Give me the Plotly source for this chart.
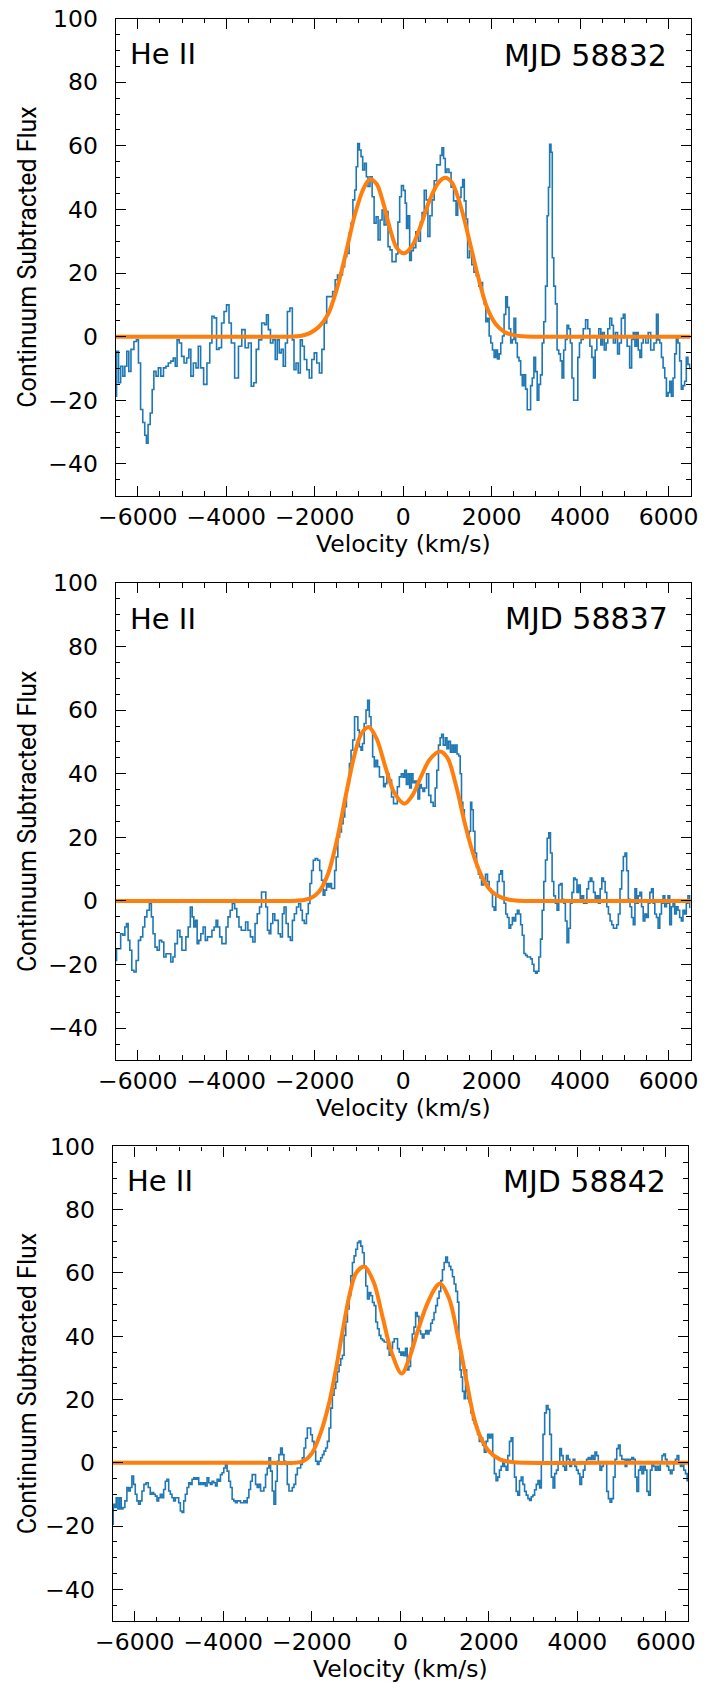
import plotly.graph_objects as go

W, H = 705, 1683

# ---------------- data ----------------
vel_58832 = [-6500, -6462, -6410, -6365, -6312, -6275, -6222, -6185, -6125, -6050, -6012, -5960, -5915, -5862, -5825,
             -5787, -5750, -5690, -5660, -5615, -5562, -5510, -5450, -5390, -5337, -5285, -5225, -5172, -5135, -5090,
             -5037, -4985, -4925, -4865, -4827, -4775, -4715, -4655, -4610, -4550, -4475, -4400, -4347, -4302, -4250,
             -4190, -4137, -4077, -4025, -3965, -3912, -3860, -3762, -3687, -3612, -3537, -3462, -3410, -3350, -3297,
             -3237, -3162, -3110, -3072, -3027, -2975, -2915, -2870, -2825, -2780, -2735, -2690, -2637, -2600, -2525,
             -2487, -2450, -2397, -2352, -2300, -2262, -2210, -2150, -2097, -2037, -1985, -1925, -1865, -1812, -1760,
             -1700, -1625, -1565, -1512, -1460, -1400, -1347, -1302, -1250, -1197, -1160, -1115, -1077, -1047, -1010,
             -972, -935, -897, -852, -815, -777, -725, -680, -635, -590, -545, -500, -455, -410, -365, -320, -275,
             -230, -185, -140, -100, -60, -20, 30, 60, 90, 127, 165, 202, 255, 315, 375, 405, 450, 502, 540, 577, 630,
             675, 727, 787, 824, 854, 899, 929, 974, 1004, 1064, 1101, 1176, 1213, 1251, 1288, 1326, 1363, 1400, 1438,
             1475, 1528, 1573, 1625, 1678, 1738, 1775, 1813, 1850, 1887, 1925, 1962, 2000, 2037, 2075, 2112, 2150,
             2187, 2225, 2262, 2300, 2337, 2374, 2412, 2449, 2487, 2524, 2562, 2599, 2637, 2674, 2711, 2749, 2786,
             2824, 2861, 2899, 2936, 2974, 3011, 3048, 3086, 3123, 3161, 3198, 3236, 3273, 3296, 3326, 3356, 3385,
             3423, 3460, 3498, 3535, 3573, 3610, 3648, 3685, 3723, 3760, 3797, 3835, 3872, 3925, 3970, 4000, 4045,
             4097, 4150, 4194, 4247, 4284, 4322, 4359, 4397, 4449, 4487, 4524, 4569, 4606, 4644, 4696, 4734, 4771,
             4824, 4868, 4906, 4958, 4996, 5033, 5093, 5146, 5183, 5220, 5258, 5295, 5333, 5370, 5408, 5445, 5520,
             5558, 5633, 5707, 5745, 5782, 5820, 5857, 5895, 5932, 5970, 6007, 6045, 6082, 6120, 6157, 6194, 6232,
             6269, 6307, 6344, 6382, 6419, 6457, 6500]
flux_58832 = [-18.7, -4.6, -14.5, -9.3, -12.4, -9.3, -4.6, -10.9, -4, -1.5, -1, -8.3, -22.9, -27, -31,
              -33.5, -27.6, -24, -16.6, -10.9, -12.4, -9.8, -12.4, -9.8, -9.3, -8.3, -7.7, -6.7, -9.3, -1,
              -2, -6.2, -8.3, -6.7, -4, -12.4, -8.3, -9.8, -3, -9.8, -15, -8.3, -2, 6.4, 5.9,
              -4, -3.5, 4.3, 7.9, 10, 4.3, -2, -13, -3, 2.2, -3.5, -2, -15.6, -14.5, -4,
              -1, 4.3, 3.8, 6.9, 2.2, -2, -1, -7.2, -1, -5.1, -4, -9.3, -2, 7.9, 9,
              -1, -10.4, -8.3, -11.4, -1, -3, -7.2, -10.4, -13, -7.2, -5.1, -8.3, -11.4, -4, 4.3,
              12.6, 12.6, 14.2, 17.9, 19.4, 19.4, 22, 25.2, 26.2, 32.5, 35.7, 43, 46.1, 53.4, 60.7,
              58.7, 56.6, 52.4, 54.5, 50.3, 47.2, 50.3, 44, 35.7, 37.7, 30.4, 36.7, 39.8, 35.1, 39.3, 28.3, 27.3,
              23.6, 23.6, 26, 36, 44, 47.5, 46, 42, 34, 38, 24, 27, 28, 33, 30, 36, 39, 46, 43, 31.5, 38,
              43, 49, 54, 54, 57, 59.4, 56, 51.6, 52.7, 51.6, 47, 42.7, 38.2, 42.7, 43.8, 47, 49.4, 42.7, 37,
              24.8, 27, 22.6, 20.3, 19.2, 15.9, 17, 12.5, 10.3, 4.7, 5.8, 0.2, -2, -4.2, -6.5, -4.2, -7,
              -5.4, -2, 0.2, 7, 12.5, 9.2, 2.5, -2, -0.9, 5.8, -2, -6.5, -7.6, -12, -15.4, -12, -16.5,
              -23, -23, -15.4, -13, -6.5, -11, -20, -15, -12, -2, 4.7, 15.9, 38, 47, 60.5, 58, 24.8,
              15.9, 10.3, -4.2, -5.4, -7.6, -13, -4.2, -0.9, 3.6, 2.5, -2, -13, -20, -20, -6.5, -2, -0.9,
              2.5, 5.3, 2.5, -3, -6.5, -13, -4.2, 0.2, 2.5, -2.6, 1.3, -4.2, -2, 2.5, 5.8, 3.6, -2,
              1.3, -5.4, -2, 5.8, 7, 0.2, -3, -9.8, -0.9, 1.3, -3, 1.3, -4.2, -6.5, -2, 0.2, -2,
              1.3, -4.2, -2, 7, -1, -2, -6.5, -9.8, -13, -18.7, -17.6, -14, -18.7, -13, -5.4, 0.2, -2,
              -7.6, -16.5, -15.4, -14, -6.5, -8.7, -10]

vel_58837 = [-6500, -6462, -6410, -6365, -6312, -6275, -6237, -6200, -6162, -6110, -6065, -6012, -5960, -5915, -5862,
             -5825, -5765, -5712, -5675, -5637, -5585, -5540, -5487, -5435, -5390, -5337, -5285, -5225, -5187, -5135,
             -5075, -5022, -4985, -4940, -4887, -4835, -4790, -4752, -4715, -4677, -4640, -4602, -4550, -4497, -4452,
             -4400, -4347, -4302, -4250, -4212, -4175, -4122, -4077, -4025, -3987, -3935, -3890, -3837, -3785, -3740,
             -3687, -3635, -3590, -3537, -3485, -3425, -3372, -3327, -3275, -3222, -3185, -3125, -3087, -3050, -3012,
             -2975, -2922, -2885, -2847, -2802, -2750, -2712, -2675, -2622, -2577, -2525, -2487, -2435, -2390, -2337,
             -2300, -2262, -2210, -2165, -2127, -2090, -2052, -2015, -1962, -1910, -1865, -1827, -1790, -1752, -1715,
             -1677, -1640, -1602, -1565, -1535, -1497, -1460, -1415, -1377, -1340, -1302, -1265, -1235, -1197, -1160,
             -1122, -1077, -1040, -1010, -972, -935, -905, -860, -822, -785, -747, -710, -672, -635, -597, -560, -515,
             -462, -425, -387, -350, -290, -237, -200, -155, -110, -65, -22, 15, 52, 90, 127, 165, 202, 240, 277,
             315, 352, 390, 427, 465, 502, 555, 599, 652, 704, 741, 779, 816, 854, 884, 929, 974, 1004, 1049, 1086,
             1124, 1161, 1199, 1236, 1273, 1303, 1333, 1363, 1400, 1438, 1475, 1513, 1535, 1565, 1603, 1640, 1678,
             1723, 1753, 1790, 1835, 1887, 1925, 1962, 2000, 2037, 2075, 2112, 2150, 2187, 2225, 2262, 2300, 2337,
             2374, 2412, 2449, 2487, 2524, 2562, 2599, 2637, 2674, 2711, 2749, 2786, 2824, 2861, 2899, 2936, 2974,
             3011, 3048, 3086, 3123, 3161, 3198, 3236, 3273, 3311, 3348, 3385, 3423, 3460, 3498, 3535, 3573, 3610,
             3648, 3685, 3723, 3760, 3797, 3835, 3872, 3910, 3947, 3985, 4022, 4060, 4097, 4135, 4172, 4210, 4247,
             4284, 4322, 4359, 4397, 4434, 4472, 4509, 4547, 4584, 4621, 4659, 4696, 4734, 4771, 4808, 4846, 4883,
             4921, 4958, 4996, 5033, 5071, 5108, 5146, 5183, 5221, 5258, 5295, 5333, 5370, 5408, 5445, 5483, 5520,
             5558, 5595, 5633, 5670, 5707, 5745, 5782, 5820, 5857, 5895, 5932, 5970, 6007, 6045, 6082, 6120, 6157,
             6194, 6232, 6269, 6307, 6344, 6382, 6419, 6457, 6500]
flux_58837 = [-18.7, -15, -15, -10.3, -10.8, -8.2, -7.1, -12.4, -15.5, -21.8, -22.3, -18.7, -12.4, -11.3, -8.2,
              -5, -2.9, -0.8, -5, -10.3, -14.5, -15.5, -12.4, -12.9, -17.6, -16.6, -16.6, -19.2, -17.6, -13.4,
              -9.2, -11.3, -15.5, -15.5, -11.3, -8.2, -1.9, -5, -8.2, -6.1, -13.4, -12.4, -10.3, -8.2, -12.4,
              -11.3, -11.3, -9.2, -8.2, -6.1, -8.2, -11.3, -13.4, -13.4, -8.2, -5, -2.9, -0.8, -2.4, -5,
              -8.2, -9.2, -9.2, -6.6, -9.2, -11.3, -12.9, -7.1, -4, -1.9, 2.8, 2.8, -1.9, -9.2, -10.3,
              -7.1, -4, -6.1, -6.1, -10.3, -11.3, -4, -1.9, -7.1, -11.3, -12.4, -6.1, -4, -1.9, -0.8,
              -2.9, -6.1, -7.1, -4, -0.8, 5.5, 9.6, 12.8, 13.3, 12.8, 9.6, 6.5, 1.8, 3.4, 5.5,
              4.4, 5.5, 3.9, 3.9, 9.6, 13.8, 20.1, 21.7, 24.3, 26.4, 29.6, 34.8, 36.9, 43.2, 47.4,
              50.6, 57.9, 57.9, 53.7, 48.5, 47.4, 49.5, 55.8, 60, 63.1, 57.9, 53.7, 45.3, 42.2, 44.2, 42.2, 39,
              39, 35.9, 36.9, 40, 38, 32.7, 30.6, 30.6, 35.9, 39, 40, 38.9, 41.1, 36.6, 40, 35.5, 40, 37.2, 37.7,
              35.5, 32.1, 36.6, 35.5, 34.4, 35.5, 40, 33.2, 31, 29.8, 35.5, 41.1, 49, 51.3, 52.4, 49, 51.3, 47.9, 50.2, 46.8,
              49, 46.8, 49, 46.2, 45.6, 40, 31, 28.7, 24.2, 21.9, 19.7, 21.9, 31, 28.7, 21.9, 15.1, 10.6,
              8.4, 7.2, 5, 6.1, 8.4, 6.1, 3.8, 2.7, -1.8, -2.9, 1.6, 6.1, 8.4, 9.5, 6.1, -0.7, -4.1,
              -5.2, -8.6, -7.5, -5.2, -6.3, -4.1, -2.9, -4.1, -7.5, -10.8, -16.5, -17.1, -17.6, -17.6, -18.2, -19.9, -22.1,
              -22.7, -22.1, -17.6, -12, -2.9, 6.1, 12.9, 19.7, 21.4, 15.1, 6.1, 1.6, -0.7, -2.9, 5, 5.5, 0.5,
              -0.7, -6.3, -13.1, -8.6, -0.7, 2.7, 7.2, 6.7, 2.7, 5, 0.5, 1.6, -0.7, -0.7, 3.8, 6.1, 7.2,
              6.1, 2.7, 0.5, 1.6, -0.7, 3.8, 7.2, 6.1, 2.7, -1.8, -4.1, -6.3, -7.5, -8.6, -8.6, -7.5, -4.1,
              3.8, 9.5, 14, 15.1, 9.5, 0.5, -1.8, -5.2, -7.5, 3.8, -0.7, 1.6, 2.7, -1.8, -6.3, -4.1, -5.2,
              -0.7, 2.7, 3.8, -0.7, -4.1, -5.2, -8.6, -4.1, -0.7, 1.6, -1.8, -0.7, 1.6, -7.5, -1.8, -0.7, -4.1,
              -1.8, -2.9, -5.2, -6.3, -2.9, -4.1, -0.7, 1.6, -2]

vel_58842 = [-6500, -6477, -6440, -6402, -6364, -6326, -6289, -6251, -6198, -6160, -6122, -6085, -6047, -6009, -5971,
             -5934, -5896, -5858, -5820, -5768, -5722, -5670, -5632, -5594, -5556, -5518, -5481, -5443, -5405, -5367,
             -5330, -5292, -5254, -5216, -5179, -5141, -5103, -5065, -5028, -4990, -4952, -4914, -4877, -4839, -4801,
             -4763, -4726, -4688, -4650, -4612, -4575, -4537, -4499, -4461, -4424, -4386, -4348, -4310, -4273, -4235,
             -4197, -4159, -4122, -4084, -4046, -4008, -3971, -3933, -3895, -3857, -3820, -3782, -3744, -3706, -3669,
             -3631, -3593, -3555, -3518, -3480, -3442, -3404, -3367, -3329, -3291, -3253, -3216, -3178, -3140, -3102,
             -3065, -3027, -2989, -2951, -2914, -2876, -2838, -2800, -2763, -2725, -2687, -2649, -2612, -2574, -2536,
             -2498, -2461, -2423, -2385, -2347, -2310, -2272, -2234, -2196, -2159, -2121, -2083, -2045, -2008, -1970,
             -1932, -1894, -1857, -1819, -1781, -1743, -1706, -1668, -1630, -1592, -1555, -1517, -1479, -1441, -1404,
             -1366, -1328, -1290, -1253, -1215, -1177, -1139, -1102, -1064, -1026, -988, -951, -913, -875, -837, -800,
             -762, -724, -686, -649, -611, -573, -535, -498, -460, -422, -384, -347, -309, -271, -233, -196, -158,
             -120, -82, -45, -7, 31, 61, 98, 136, 174, 212, 250, 288, 326, 364, 402, 439, 477, 515, 553, 591, 629,
             667, 705, 742, 780, 818, 856, 894, 932, 970, 1008, 1045, 1083, 1121, 1159, 1197, 1235, 1273, 1311, 1333,
             1364, 1386, 1424, 1462, 1485, 1508, 1538, 1576, 1614, 1652, 1689, 1727, 1765, 1803, 1841, 1879, 1917,
             1955, 1992, 2030, 2068, 2106, 2144, 2182, 2220, 2258, 2296, 2333, 2371, 2409, 2447, 2485, 2523, 2561,
             2599, 2636, 2674, 2712, 2750, 2788, 2826, 2864, 2902, 2939, 2977, 3015, 3053, 3091, 3129, 3167, 3205,
             3242, 3280, 3318, 3356, 3394, 3432, 3470, 3508, 3546, 3583, 3621, 3659, 3697, 3735, 3773, 3811, 3849,
             3886, 3924, 3962, 4000, 4038, 4076, 4114, 4152, 4189, 4227, 4265, 4303, 4341, 4379, 4417, 4455, 4492,
             4530, 4568, 4606, 4644, 4682, 4720, 4758, 4795, 4833, 4871, 4909, 4947, 4985, 5023, 5061, 5098, 5136,
             5174, 5212, 5250, 5288, 5326, 5364, 5402, 5439, 5477, 5515, 5553, 5591, 5629, 5667, 5705, 5742, 5780,
             5818, 5856, 5894, 5932, 5970, 6008, 6045, 6083, 6121, 6159, 6197, 6235, 6273, 6311, 6348, 6386, 6424,
             6462, 6500]
flux_58842 = [-19.4, -13.1, -14.1, -11, -14.6, -11, -14.6, -14.1, -12, -7.8, -8.9, -7.8, -4.2, -6.8, -9.9,
              -12, -13.1, -12, -8.9, -6.8, -6.3, -7.8, -9.9, -9.4, -9.9, -10.5, -12, -11, -9.9, -11,
              -8.4, -5.8, -5.2, -8.9, -9.9, -11, -12, -11, -11, -12.6, -15.2, -15.7, -12, -9.9, -7.8,
              -6.3, -6.8, -5.2, -4.7, -5.2, -4.7, -6.8, -6.3, -6.8, -6.3, -7.3, -4.7, -6.3, -6.8, -5.8,
              -6.3, -7.3, -5.2, -5.8, -3.7, -3.1, -1.6, -0.5, -2.6, -5.8, -7.8, -11.5, -12, -12.6, -12,
              -12, -12.6, -12.6, -12, -12.6, -11, -8.4, -5.8, -3.7, -3.7, -6.8, -7.8, -6.8, -8.9, -8.9,
              -7.8, -3.7, -1.6, 1.6, -2.6, -8.9, -13.1, -5.8, 0.5, 2.6, 4.7, 2.6, 0.5, -0.5, -6.8,
              -8.9, -8.9, -7.8, -6.8, -3.7, -1.6, -1.6, -0.5, 1.6, 4.7, 7.8, 11, 11, 8.9, 6.8,
              3.7, 0.5, -0.5, 0.5, 1.6, 2.6, 3.7, 4.7, 6.8, 11, 17.3, 21.4, 23.5, 25.6, 28.8,
              30.9, 32.9, 34, 40.3, 44.5, 48.6, 52.8, 59.1, 63.3, 65.4, 67.5, 69.6, 70.1, 68.5, 66.4, 62.2,
              55.9, 51.8, 53.8, 52.8, 50.7, 49.7, 44.5, 42.4, 40.3, 39.2, 38.7, 38.2, 38.2, 36.1, 34, 36.1, 38.2,
              39.2, 39.2, 36.1, 35, 34, 35, 33.9, 36.2, 29.4, 30.5, 36.2, 40.7, 42.9, 47.5, 46.3, 41.8, 40.7, 39.5, 40.7, 41.8, 40.7,
              41.8, 44.1, 45.2, 47.5, 49.7, 52, 54.2, 57.6, 61, 63.3, 65, 63.3, 62.1, 61, 58.8, 56.5, 54.2, 50.8, 36.2,
              29.4, 27.1, 22.6, 20.3, 29.4, 22.6, 20.3, 19.2, 15.8, 13.6, 12.4, 11.3, 9, 6.8, 7.9, 5.6, 3.4,
              6.8, 9, 7.9, 9, 2.3, -3.4, -5.6, -4.5, -2.3, -1.1, 0, -1.1, -2.3, 2.3, 6.8, 7.9, 0,
              -4.5, -9, -10.2, -5.6, -4.5, -6.8, -9, -10.2, -11.3, -11.9, -10.7, -10.2, -8.5, -6.8, -5.6, -7.9, 0,
              9, 15.8, 18.1, 16.9, 9, -4.5, -7.9, -3.4, -2.3, 0, 4.5, 2.3, -1.1, -2.3, 2.3, 1.1, -1.1,
              0, 1.1, -1.1, -2.3, -3.4, -6.8, -4.5, -2.3, 0, 1.1, 1.7, 1.1, 2.3, 1.1, 3.4, 2.3, 0,
              -2.3, -1.1, 0, 0, -9, -11.3, -12.4, -11.3, -4.5, 1.1, 4.5, 5.6, 2.3, 1.1, 1.1, -1.1, 1.1,
              0, 1.1, 1.7, 1.1, -4.5, -9, -2.3, -1.1, -3.4, -1.1, -2.3, -9, -10.2, -2.3, 0, -1.1, -2.3,
              -1.1, -2.3, 0, 2.3, 2.8, 1.1, -1.1, -2.3, -3.4, -2.3, 0, 1.1, 2.3, 0, -1.1, 0, -2.3,
              -3.4, -5.6]

# double-peaked fits (sampled from the orange curves)
fit_vel_58832 = [-6500, -4500, -3000, -2600, -2300, -2100, -1900, -1700, -1500, -1300, -1100, -900, -750, -600, -450,
                 -300, -150, 20, 200, 400, 600, 800, 950, 1100, 1300, 1500, 1700, 1900, 2100, 2300, 2500, 2700, 3000,
                 4500, 6500]
fit_flux_58832 = [0, 0, 0, 0, 0.3, 1.2, 3.2, 7, 15, 26, 38, 46.5, 49.5, 48, 42,
                  34, 28, 26.2, 28.5, 35, 43, 48.5, 50, 48.5, 41, 30, 18.5, 9, 3.8, 1.4, 0.5, 0.1, 0,
                  0, 0]
fit_vel_58837 = [-6500, -4500, -3000, -2500, -2300, -2100, -1900, -1700, -1500, -1300, -1100, -950, -780, -600, -400,
                 -200, 30, 200, 400, 600, 830, 1000, 1200, 1400, 1600, 1800, 2000, 2200, 2400, 2600, 3000, 4500, 6500]
fit_flux_58837 = [0, 0, 0, 0, 0.2, 0.8, 3, 8.5, 19, 33, 46, 52.5, 54.7, 51, 42,
                  34, 30.6, 33, 39, 44.5, 47, 45, 36, 24, 14, 7, 3, 1.2, 0.4, 0.1, 0, 0, 0]
fit_vel_58842 = [-6500, -4500, -3000, -2400, -2200, -2000, -1800, -1600, -1450, -1300, -1150, -1000, -810, -600, -400,
                 -200, 30, 200, 400, 600, 800, 900, 1100, 1300, 1500, 1650, 1800, 2000, 2250, 2550, 2800, 4500, 6500]
fit_flux_58842 = [0, 0, 0, 0, 0.5, 3, 9.5, 19.5, 30, 42, 53, 60, 62, 57, 46,
                  35, 28.2, 33, 42, 50, 55.5, 56.7, 52, 40, 25.5, 15, 8.5, 3.7, 1.1, 0.2, 0, 0, 0]

epoch_labels = ["MJD 58832", "MJD 58837", "MJD 58842"]
line_label = "He II"
x_title = "Velocity (km/s)"
y_title = "Continuum Subtracted Flux"
x_tickvals = [-6000, -4000, -2000, 0, 2000, 4000, 6000]
x_ticktext = ["\u22126000", "\u22124000", "\u22122000", "0", "2000", "4000", "6000"]
y_tickvals = [-40, -20, 0, 20, 40, 60, 80, 100]
y_ticktext = ["\u221240", "\u221220", "0", "20", "40", "60", "80", "100"]

spectra = [(vel_58832, flux_58832, fit_vel_58832, fit_flux_58832),
           (vel_58837, flux_58837, fit_vel_58837, fit_flux_58837),
           (vel_58842, flux_58842, fit_vel_58842, fit_flux_58842)]

# ---------------- layout (pixel geometry) ----------------
# plot box: left, right, top, bottom (px)
boxes = [(115.7, 690.7, 18.6, 495.7),
         (115.7, 690.7, 582.9, 1060.0),
         (112.7, 688.0, 1146.4, 1621.1)]
he_pos = [(127.5, 53.6), (127.5, 618.9), (124.5, 1181.4)]
mjd_pos = [(669.3, 55.4), (670.3, 619.0), (667.7, 1181.4)]
xtitle_y = [544, 1108, 1668.5]


def fx(p):
    return p / W


def fy(p):
    return 1 - p / H


BLUE = "#1f77b4"
ORANGE = "#ff7f0e"
TICKFONT = dict(family="DejaVu Sans", size=23.5, color="black")

fig = go.Figure()
layout = dict(width=W, height=H, margin=dict(l=0, r=0, t=0, b=0),
              paper_bgcolor="white", plot_bgcolor="white", showlegend=False)
annotations = []

for i, (vel, flux, fv, ff) in enumerate(spectra):
    n = "" if i == 0 else str(i + 1)
    xa, ya = "x" + n, "y" + n
    fig.add_trace(go.Scatter(x=vel, y=flux, mode="lines", xaxis=xa, yaxis=ya,
                             line=dict(color=BLUE, width=1.6, shape="hvh")))
    fig.add_trace(go.Scatter(x=fv, y=ff, mode="lines", xaxis=xa, yaxis=ya,
                             line=dict(color=ORANGE, width=4, shape="spline", smoothing=0.9)))
    l, r, t, b = boxes[i]
    common = dict(showline=True, linecolor="black", linewidth=1.2, mirror="allticks",
                  ticks="inside", ticklen=10, tickwidth=1.2, tickcolor="black",
                  showgrid=False, zeroline=False, tickfont=TICKFONT, automargin=False)
    layout["xaxis" + n] = dict(common, domain=[fx(l), fx(r)], anchor=ya, range=[-6500, 6500],
                               tickmode="array", tickvals=x_tickvals, ticktext=x_ticktext,
                               ticklabelstandoff=0,
                               minor=dict(tickmode="linear", tick0=0, dtick=500, ticks="inside",
                                          ticklen=4.5, tickwidth=1.1, tickcolor="black", showgrid=False))
    layout["yaxis" + n] = dict(common, domain=[fy(b), fy(t)], anchor=xa, range=[-50, 100],
                               tickmode="array", tickvals=y_tickvals, ticktext=y_ticktext,
                               ticklabelstandoff=12,
                               minor=dict(tickmode="linear", tick0=0, dtick=5, ticks="inside",
                                          ticklen=4.5, tickwidth=1.1, tickcolor="black", showgrid=False))
    hx, hy = he_pos[i]
    annotations.append(dict(text=line_label, x=fx(hx), y=fy(hy), xref="paper", yref="paper",
                            xanchor="left", yanchor="middle", showarrow=False,
                            font=dict(family="DejaVu Sans", size=29, color="black")))
    mx, my = mjd_pos[i]
    annotations.append(dict(text=epoch_labels[i], x=fx(mx), y=fy(my), xref="paper", yref="paper",
                            xanchor="right", yanchor="middle", showarrow=False,
                            font=dict(family="DejaVu Sans", size=30, color="black")))
    annotations.append(dict(text=x_title, x=fx((l + r) / 2), y=fy(xtitle_y[i]), xref="paper", yref="paper",
                            xanchor="center", yanchor="middle", showarrow=False,
                            font=dict(family="DejaVu Sans", size=23.5, color="black")))
    annotations.append(dict(text=y_title, x=fx(27.5), y=fy((t + b) / 2), xref="paper", yref="paper",
                            xanchor="center", yanchor="middle", showarrow=False, textangle=-90,
                            font=dict(family="Roboto", size=25, color="black")))

layout["annotations"] = annotations
fig.update_layout(**layout)
fig.write_html("out.html", config={"displayModeBar": False},
               post_script="document.body.style.margin='0px';document.body.style.overflow='hidden';")
